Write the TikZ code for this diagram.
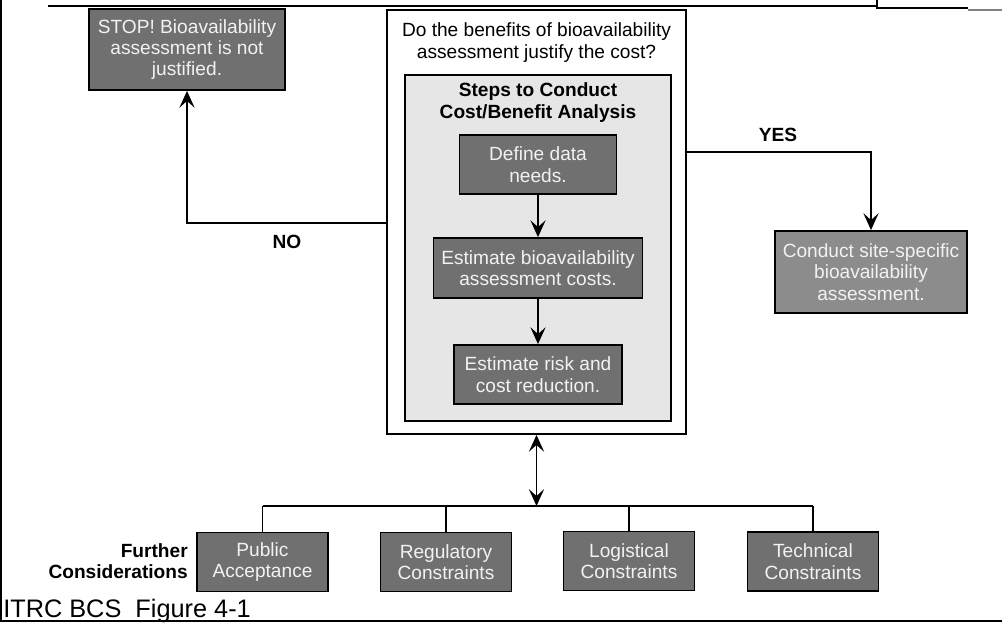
\documentclass[tikz,border=0pt]{standalone}
\usepackage{fontspec}
\setmainfont{Liberation Sans}
\usetikzlibrary{arrows.meta}
\definecolor{boxdark}{HTML}{707070}
\definecolor{boxmid}{HTML}{8C8C8C}
\definecolor{panel}{HTML}{E6E6E6}
\definecolor{boxtext}{HTML}{F2F2F2}
\begin{document}
\begin{tikzpicture}[x=0.025cm, y=-0.025cm,
    every node/.style={font=\fontsize{13.6}{15.2}\selectfont, align=center, inner sep=0pt},
    stepbox/.style={draw, line width=1.3pt, fill=boxdark, text=boxtext, minimum height=1.475cm},
    conbox/.style={stepbox, minimum width=3.275cm},
    lbl/.style={font=\fontsize{13.6}{15.2}\selectfont\bfseries},
    arr/.style={line width=1.1pt, -{Stealth[length=4.2mm, width=3.8mm, inset=1.7mm]}},
    dblarr/.style={line width=1.1pt, {Stealth[length=4.2mm, width=3.8mm, inset=1.7mm]}-{Stealth[length=4.2mm, width=3.8mm, inset=1.7mm]}}]
    \useasboundingbox (0,0) rectangle (1002,623);

    % Frame of the page
    \draw[line width=1pt] (1,0) -- (1,621) -- (1002,621);
    \draw[line width=1.5pt] (48,6) -- (877,6);
    \draw[line width=1pt] (877,0) -- (877,8) -- (968,8);
    \draw[line width=1pt, gray] (968,10) -- (1002,10);

    % Decision box with the cost/benefit panel inside
    \node (decide) at (536.5,222) [draw, line width=1.3pt, minimum width=7.475cm, minimum height=10.6cm] {};
    \node (question) at (536.5,42.5) {Do the benefits of bioavailability\\assessment justify the cost?};
    \node (steps) at (538,248) [draw, line width=1.3pt, fill=panel, minimum width=6.65cm, minimum height=8.65cm] {};
    \node (title) at (538,102.5) [lbl] {Steps to Conduct\\Cost/Benefit Analysis};

    % The three steps
    \node (define) at (538,164.5) [stepbox, minimum width=3.925cm] {Define data\\needs.};
    \node (estcost) at (538,268) [stepbox, minimum width=5.225cm, minimum height=1.5cm] {Estimate bioavailability\\assessment costs.};
    \node (estrisk) at (538,374.5) [stepbox, minimum width=4.2cm] {Estimate risk and\\cost reduction.};
    \draw[arr] (define) -- (estcost);
    \draw[arr] (estcost) -- (estrisk);

    % Outcomes
    \node (stop) at (187,49.5) [stepbox, minimum width=4.9cm, minimum height=2.025cm] {STOP! Bioavailability\\assessment is not\\justified.};
    \node (conduct) at (871,272) [stepbox, fill=boxmid, minimum width=4.8cm, minimum height=2.05cm] {Conduct site-specific\\bioavailability\\assessment.};
    \coordinate (noout) at (387,223);
    \coordinate (yesout) at (686,152);
    \draw[arr] (noout) -| (stop.south);
    \draw[arr] (yesout) -| (conduct.north);
    \node (no) at (287,242) [lbl] {NO};
    \node (yes) at (778,135) [lbl] {YES};

    % Further considerations
    \node (public) at (262.5,562) [conbox] {Public\\Acceptance};
    \node (regulatory) at (446,562) [conbox] {Regulatory\\Constraints};
    \node (logistical) at (629,561) [conbox] {Logistical\\Constraints};
    \node (technical) at (813,561.5) [conbox] {Technical\\Constraints};
    \node (further) at (188,561) [lbl, anchor=east, align=right] {Further\\Considerations};
    \coordinate (bus) at (536.5,506);
    \foreach \n in {public,regulatory,logistical,technical}
        \draw[line width=1.1pt] (\n.north) -- (\n.north |- bus);
    \draw[line width=1.1pt] (public.north |- bus) -- (technical.north |- bus);
    \draw[dblarr] (decide.south) -- (bus);

    \node (caption) at (3,617) [anchor=base west, font=\fontsize{18}{20}\selectfont] {ITRC BCS\ \ Figure 4-1};
\end{tikzpicture}
\end{document}
